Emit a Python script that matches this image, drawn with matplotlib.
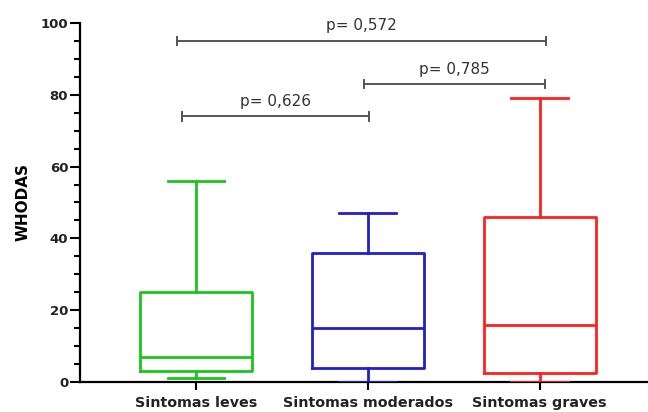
import matplotlib
matplotlib.use("Agg")
import matplotlib.pyplot as plt

plt.rcParams["font.family"] = ["DejaVu Sans"]

# ================== DATA ==================
groups = ["Sintomas leves", "Sintomas moderados", "Sintomas graves"]
whisker_low = [1, 0, 0]
q1 = [3, 4, 2.5]
median = [7, 15, 16]
q3 = [25, 36, 46]
whisker_high = [56, 47, 79]
colors = ["#1ec41e", "#2020cc", "#ff2020"]

# comparisons: (group i, group j), bracket height, label
comp_pairs = [(0, 2), (1, 2), (0, 1)]
comp_heights = [95, 83, 74]
comp_labels = ["p= 0,572", "p= 0,785", "p= 0,626"]

# ================== FIGURE ==================
fig = plt.figure(figsize=(6.48, 4.12), dpi=100)
ax = fig.add_axes([0.1235, 0.0728, 0.8765, 0.8715])

positions = [1, 2, 3]
# bracket end offsets (brackets don't sit exactly on box centres)
end_shift = {(0, 2): (-0.11, 0.035), (1, 2): (-0.02, 0.03), (0, 1): (-0.08, 0.005)}

for i, g in enumerate(groups):
    st = dict(label=g, whislo=whisker_low[i], q1=q1[i], med=median[i],
              q3=q3[i], whishi=whisker_high[i], fliers=[])
    c = colors[i]
    ax.bxp([st], positions=[positions[i]], widths=0.65, showfliers=False,
           boxprops=dict(color=c, lw=2.0),
           medianprops=dict(color=c, lw=2.0),
           whiskerprops=dict(color=c, lw=2.0),
           capprops=dict(color=c, lw=2.0),
           capwidths=0.33, zorder=3)

# significance brackets
for (a, b), h, lab in zip(comp_pairs, comp_heights, comp_labels):
    da, db = end_shift[(a, b)]
    xa = positions[a] + da
    xb = positions[b] + db
    ax.plot([xa, xb], [h, h], color="#555555", lw=1.4, clip_on=False)
    ax.plot([xa, xa], [h - 1.2, h + 1.2], color="#555555", lw=1.4, clip_on=False)
    ax.plot([xb, xb], [h - 1.2, h + 1.2], color="#555555", lw=1.4, clip_on=False)
    ax.text((xa + xb) / 2, h + 2.9, lab, ha="center", va="baseline",
            fontsize=11, color="#333333")

ax.set_xlim(0.326, 3.63)
ax.set_ylim(0, 100)
ax.set_xticks(positions)
ax.set_xticklabels(groups, fontsize=10.3, fontweight="bold", color="#222222")
ax.set_yticks([0, 20, 40, 60, 80, 100])
ax.set_yticks(range(0, 101, 5), minor=True)
ax.tick_params(axis="y", which="major", length=7, width=1.5, labelsize=9.5, pad=1.5)
ax.tick_params(axis="y", which="minor", length=4, width=1.5)
ax.tick_params(axis="x", length=6, width=1.5, pad=4)
for lbl in ax.get_yticklabels():
    lbl.set_fontweight("bold")
    lbl.set_color("#222222")

ax.set_ylabel("WHODAS", fontsize=11, fontweight="bold", labelpad=7)

for s in ["top", "right"]:
    ax.spines[s].set_visible(False)
for s in ["left", "bottom"]:
    ax.spines[s].set_linewidth(1.6)
    ax.spines[s].set_zorder(1)

fig.savefig("out.png", dpi=100)
